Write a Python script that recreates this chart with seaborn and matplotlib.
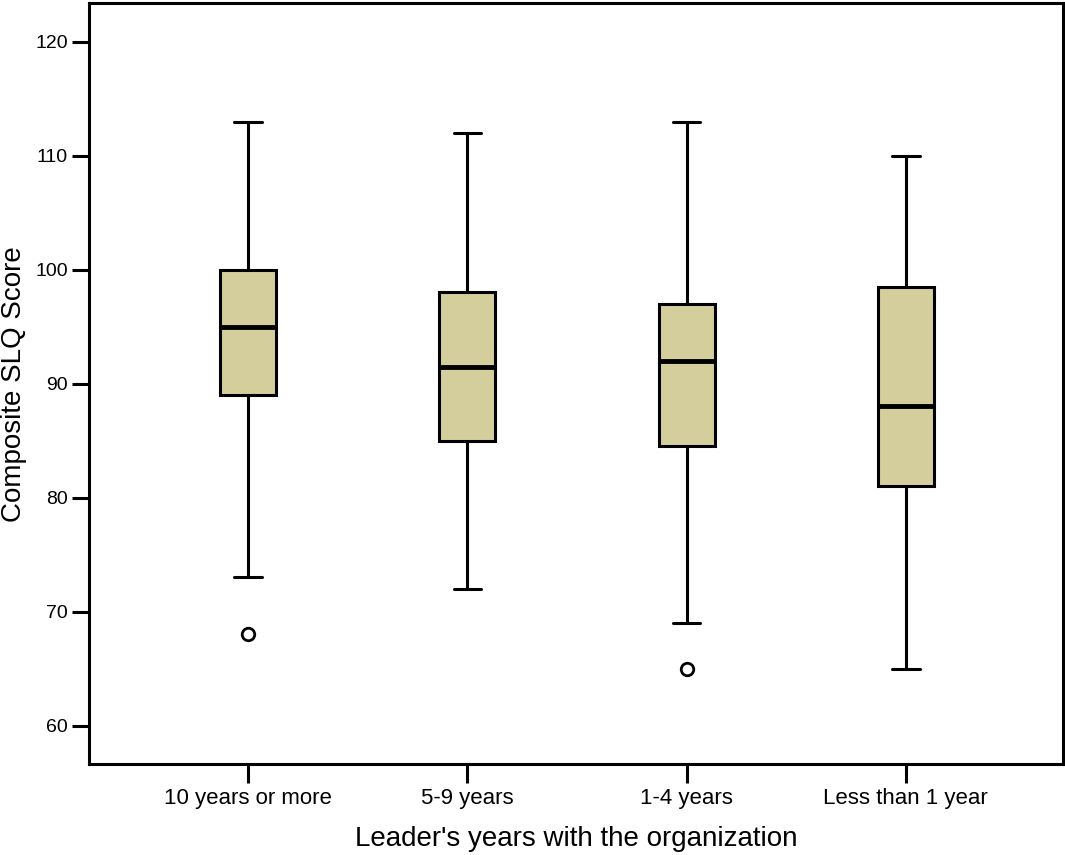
import matplotlib
matplotlib.use("Agg")
import matplotlib.pyplot as plt
import seaborn as sns

categories = ["10 years or more", "5-9 years", "1-4 years", "Less than 1 year"]
whislo = [73, 72, 69, 65]
q1 = [89, 85, 84.5, 81]
med = [95, 91.5, 92, 88]
q3 = [100, 98, 97, 98.5]
whishi = [113, 112, 113, 110]
fliers = [[68], [], [65], []]
yticks = [60, 70, 80, 90, 100, 110, 120]

sns.set_style("ticks")
plt.rcParams["font.family"] = ["Liberation Sans", "DejaVu Sans"]
plt.rcParams["text.color"] = "black"
plt.rcParams["axes.labelcolor"] = "black"
plt.rcParams["xtick.color"] = "black"
plt.rcParams["ytick.color"] = "black"

fig = plt.figure(figsize=(10.65, 8.55), dpi=100)
ax = fig.add_axes([0.0833, 0.1061, 0.9147, 0.89])

stats = []
for i, c in enumerate(categories):
    stats.append(dict(label=c, whislo=whislo[i], q1=q1[i], med=med[i],
                      q3=q3[i], whishi=whishi[i], fliers=fliers[i]))

ax.bxp(stats, positions=range(len(categories)), widths=0.255, patch_artist=True,
       showfliers=True,
       boxprops=dict(facecolor="#D3CE9B", edgecolor="black", linewidth=2.2),
       medianprops=dict(color="black", linewidth=3.5),
       whiskerprops=dict(color="black", linewidth=2.2),
       capprops=dict(color="black", linewidth=2.2),
       capwidths=0.125,
       flierprops=dict(marker="o", markersize=9, markerfacecolor="white",
                       markeredgecolor="black", markeredgewidth=2))

ax.set_xlim(-0.726, 3.716)
ax.set_ylim(56.6, 123.37)
ax.set_yticks(yticks)
ax.set_yticklabels([str(v) for v in yticks], fontsize=14)
ax.set_xticks(range(len(categories)))
ax.set_xticklabels(categories, fontsize=16)
ax.tick_params(axis="both", direction="out", length=12, width=2.2, color="black",
               labelcolor="black", pad=3)
ax.tick_params(axis="x", length=14)
for s in ax.spines.values():
    s.set_visible(True)
    s.set_linewidth(2.2)
    s.set_color("black")
ax.set_ylabel("Composite SLQ Score", fontsize=20, labelpad=6, color="black")
ax.set_xlabel("Leader's years with the organization", fontsize=20, labelpad=12, color="black")
ax.grid(False)
fig.savefig("out.png", dpi=100)
